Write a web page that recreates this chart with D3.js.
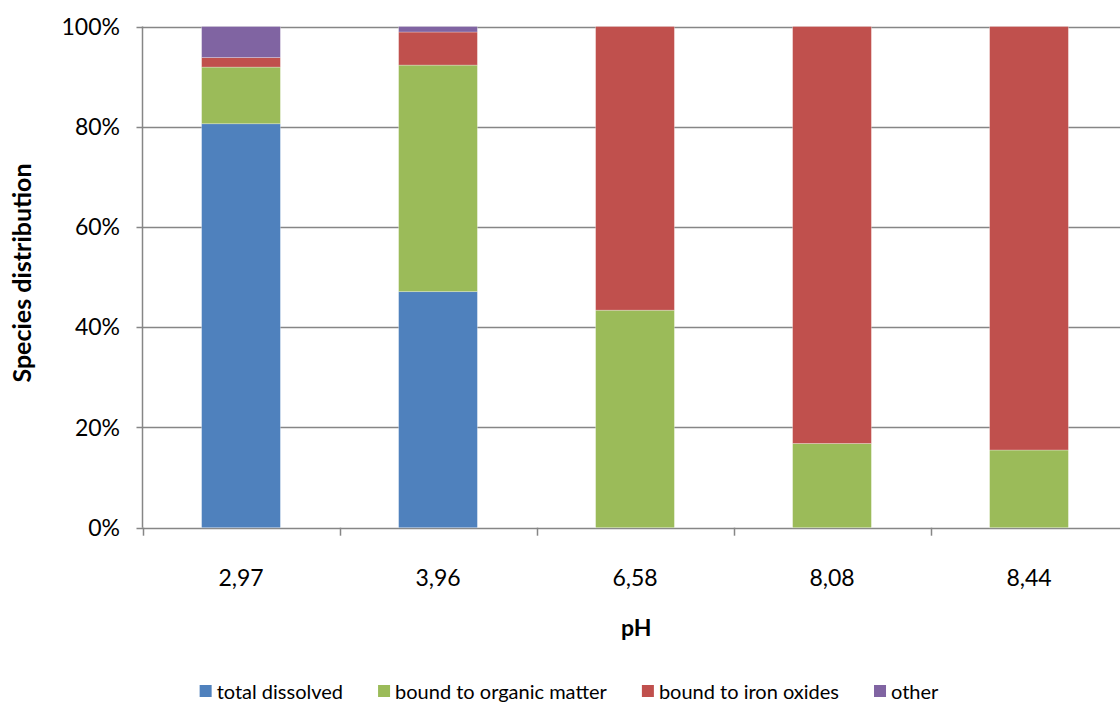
<!DOCTYPE html>
<html>
<head>
<meta charset="utf-8">
<script src="https://cdn.jsdelivr.net/npm/d3@7"></script>
<style>
  html, body { margin: 0; padding: 0; background: #fff; }
  svg { display: block; font-family: Lato, "Open Sans", sans-serif; }
</style>
</head>
<body>
<svg id="chart" width="1120" height="702"></svg>
<script>
// pH values of the samples (category axis)
const categories = ["2,97", "3,96", "6,58", "8,08", "8,44"];

// Species share per sample, in percent
const totalDissolved = [80.6, 47.1, 0, 0, 0];
const boundOrganic   = [11.3, 45.2, 43.4, 16.8, 15.5];
const boundIron      = [1.9, 6.6, 56.6, 83.2, 84.5];
const other          = [6.2, 1.1, 0, 0, 0];

const seriesNames = ["total dissolved", "bound to organic matter", "bound to iron oxides", "other"];
const seriesValues = [totalDissolved, boundOrganic, boundIron, other];
const yTicks = [0, 20, 40, 60, 80, 100];

const colors = ["#4F81BD", "#9BBB59", "#C0504D", "#8064A2"];

const svg = d3.select("#chart");
const margin = { left: 142.5, top: 26.5, bottom: 527.7 };
const plotRight = 142.5 + 197 * categories.length;

const x = d3.scaleBand()
  .domain(categories)
  .range([margin.left, plotRight])
  .paddingInner(0.6)
  .paddingOuter(0.3);

const xEdges = d3.scaleBand().domain(categories).range([margin.left, plotRight]);

const y = d3.scaleLinear().domain([0, 100]).range([margin.bottom, margin.top]);

// build stacked rows
const rows = categories.map((c, i) => {
  const r = { cat: c };
  seriesNames.forEach((s, k) => r[s] = seriesValues[k][i]);
  return r;
});
const stacked = d3.stack().keys(seriesNames)(rows);

// horizontal gridlines
svg.append("g")
  .selectAll("line")
  .data(yTicks)
  .join("line")
  .attr("x1", margin.left - 6)
  .attr("x2", plotRight)
  .attr("y1", d => Math.round(y(d)) + 0.5)
  .attr("y2", d => Math.round(y(d)) + 0.5)
  .attr("stroke", "#868686")
  .attr("stroke-width", 1.5);

// stacked bars
svg.append("g")
  .selectAll("g")
  .data(stacked)
  .join("g")
  .attr("fill", (d, i) => colors[i])
  .selectAll("rect")
  .data(d => d.filter(p => p[1] - p[0] > 0))
  .join("rect")
  .attr("x", d => x(d.data.cat))
  .attr("width", x.bandwidth())
  .attr("y", d => y(d[1]))
  .attr("height", d => y(d[0]) - y(d[1]))
  .attr("stroke", "rgba(255,255,255,0.35)")
  .attr("stroke-width", 0.8);

// y axis line
svg.append("line")
  .attr("x1", margin.left).attr("x2", margin.left)
  .attr("y1", margin.top).attr("y2", margin.bottom)
  .attr("stroke", "#868686").attr("stroke-width", 1.5);

// x axis tick marks at category boundaries
const boundaries = categories.map(c => xEdges(c)).concat([plotRight]);
svg.append("g")
  .selectAll("line")
  .data(boundaries)
  .join("line")
  .attr("x1", d => Math.round(d) + 0.5)
  .attr("x2", d => Math.round(d) + 0.5)
  .attr("y1", margin.bottom)
  .attr("y2", margin.bottom + 8)
  .attr("stroke", "#868686").attr("stroke-width", 1.5);

// y tick labels
svg.append("g")
  .selectAll("text")
  .data(yTicks)
  .join("text")
  .attr("x", 120)
  .attr("y", d => y(d))
  .attr("dy", "0.35em")
  .attr("text-anchor", "end")
  .attr("font-size", 23)
  .attr("fill", "#000")
  .text(d => d + "%");

// x tick labels
svg.append("g")
  .selectAll("text")
  .data(categories)
  .join("text")
  .attr("x", d => x(d) + x.bandwidth() / 2)
  .attr("y", 586)
  .attr("text-anchor", "middle")
  .attr("font-size", 23)
  .attr("fill", "#000")
  .text(d => d);

// axis titles
svg.append("text")
  .attr("x", (margin.left + 1120) / 2 + 5)
  .attr("y", 636)
  .attr("text-anchor", "middle")
  .attr("font-size", 23)
  .attr("font-weight", "bold")
  .text("pH");

svg.append("text")
  .attr("transform", "translate(31," + 273 + ") rotate(-90)")
  .attr("text-anchor", "middle")
  .attr("font-size", 25)
  .attr("font-weight", "bold")
  .text("Species distribution");

// legend
const legend = svg.append("g");
const items = legend.selectAll("g")
  .data(seriesNames)
  .join("g");
items.append("rect")
  .attr("width", 12).attr("height", 12)
  .attr("y", -14)
  .attr("fill", (d, i) => colors[i]);
items.append("text")
  .attr("x", 17)
  .attr("font-size", 20)
  .text(d => d);

let cursor = 0;
items.each(function () {
  const w = this.querySelector("text").getComputedTextLength() + 17;
  this.__x = cursor;
  cursor += w + 35;
});
const total = cursor - 35;
const startX = 569 - total / 2;
items.attr("transform", function () { return "translate(" + (startX + this.__x) + ",699)"; });
</script>
</body>
</html>
